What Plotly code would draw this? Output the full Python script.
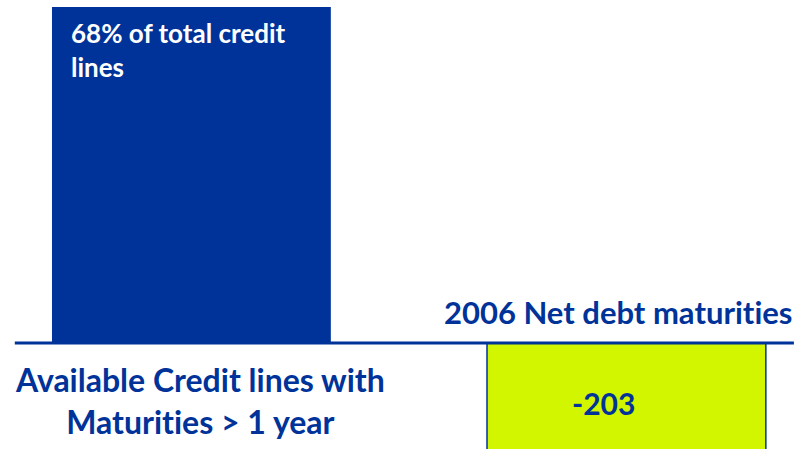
import plotly.graph_objects as go

categories = ["Available Credit lines with<br>Maturities > 1 year", "2006 Net debt maturities"]
values = [450, -203]
bar_colors = ["#003399", "#d2f500"]
inner_labels = ["68% of total credit<br>lines", "-203"]

BLUE = "#003399"
FONT = "Lato"
ZWNJ = "\u200c"  # avoid 'ti' ligature


def nolig(s):
    return s.replace("ti", "t" + ZWNJ + "i")


fig = go.Figure()
fig.add_trace(go.Bar(
    x=[0, 1], y=values, width=0.641,
    marker=dict(color=bar_colors, line=dict(color=[BLUE, BLUE], width=[0, 1.5])),
    hoverinfo="skip",
))

# zero line
fig.add_shape(type="line", xref="x", yref="y", x0=-0.406, x1=1.385, y0=0, y1=0,
              line=dict(color=BLUE, width=3))

# labels inside bars
fig.add_annotation(x=-0.281, y=values[0], xref="x", yref="y", xanchor="left", yanchor="top",
                   yshift=-8, align="left", showarrow=False,
                   text="<b>" + nolig(inner_labels[0]) + "</b>",
                   font=dict(family=FONT, size=26, color="white"))
fig.add_annotation(x=0.948, y=-80, xref="x", yref="y", xanchor="center", yanchor="middle",
                   showarrow=False, text="<b>" + inner_labels[1] + "</b>",
                   font=dict(family=FONT, size=30, color=BLUE))

# category labels
fig.add_annotation(x=0.02, y=0, xref="x", yref="y", xanchor="center", yanchor="top",
                   yshift=-15, showarrow=False, align="center",
                   text="<b>" + nolig(categories[0]) + "</b>",
                   font=dict(family=FONT, size=32, color=BLUE))
fig.add_annotation(x=1.385, y=0, xref="x", yref="y", xanchor="right", yanchor="bottom",
                   yshift=10, showarrow=False,
                   text="<b>" + nolig(categories[1]) + "</b>",
                   font=dict(family=FONT, size=31, color=BLUE))

fig.update_layout(
    width=800, height=449,
    margin=dict(l=0, r=0, t=0, b=0),
    paper_bgcolor="white", plot_bgcolor="white",
    showlegend=False,
    xaxis=dict(range=[-0.440, 1.399], visible=False, fixedrange=True),
    yaxis=dict(range=[-141.9, 459.4], visible=False, fixedrange=True),
)

fig.write_html("out.html")
